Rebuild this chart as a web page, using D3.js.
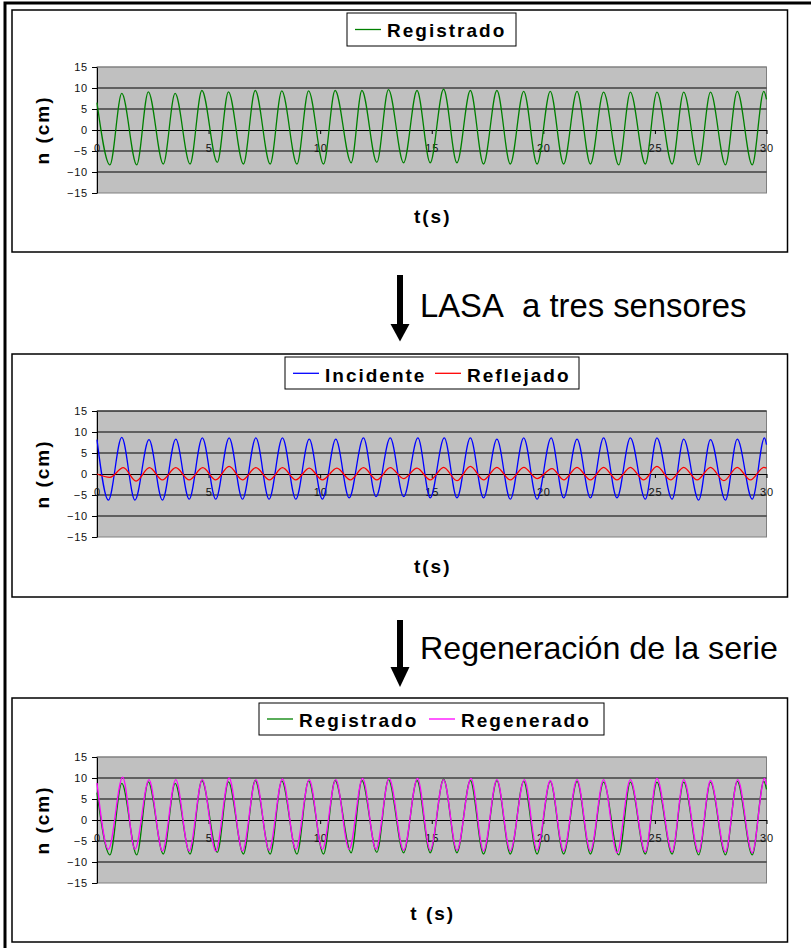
<!DOCTYPE html>
<html>
<head>
<meta charset="utf-8">
<script src="https://cdn.jsdelivr.net/npm/d3@7"></script>
<style>
  body { margin: 0; background: #fff; }
  svg { display: block; font-family: "Liberation Sans", Arial, Helvetica, sans-serif; }
</style>
</head>
<body>
<div id="container"></div>
<script>
// tick labels
const xTicks = [0, 5, 10, 15, 20, 25, 30];
const yTicks = [-15, -10, -5, 0, 5, 10, 15];

// Registrado (measured): start, then trough / crest pairs, then end
const registradoT = [0,
  0.58, 1.11, 1.78, 2.30, 2.97, 3.50, 4.17, 4.70, 5.39, 5.89,
  6.56, 7.09, 7.76, 8.28, 8.96, 9.48, 10.15, 10.67, 11.39, 11.87,
  12.54, 13.06, 13.74, 14.34, 14.93, 15.53, 16.13, 16.73, 17.32, 17.92,
  18.52, 19.12, 19.72, 20.31, 20.91, 21.51, 22.11, 22.70, 23.38, 23.90,
  24.57, 25.09, 25.77, 26.29, 26.96, 27.49, 28.16, 28.69, 29.36, 29.88,
  30];
const registradoN = [6.5,
  -8.3, 8.7, -8.3, 9.1, -8.1, 8.7, -8.1, 9.4, -7.7, 9.1,
  -8.1, 9.4, -8.1, 9.3, -8.1, 9.3, -8.1, 9.4, -7.8, 9.4,
  -7.7, 9.6, -7.8, 9.4, -7.8, 9.7, -7.8, 9.4, -8.1, 9.4,
  -8.1, 9.2, -8.1, 9.2, -8.1, 9.2, -8.1, 9.0, -8.3, 9.0,
  -8.1, 9.0, -8.1, 9.0, -8.3, 9.0, -8.3, 9.2, -8.3, 9.2,
  7.3];

// Incidente (LASA)
const incidenteT = [0,
  0.51, 1.11, 1.70, 2.33, 2.93, 3.53, 4.13, 4.72, 5.32, 5.92,
  6.52, 7.12, 7.71, 8.31, 8.91, 9.51, 10.10, 10.70, 11.30, 11.94,
  12.50, 13.14, 13.74, 14.38, 14.93, 15.56, 16.13, 16.73, 17.32, 17.92,
  18.52, 19.12, 19.72, 20.35, 20.91, 21.51, 22.11, 22.70, 23.30, 23.90,
  24.57, 25.09, 25.77, 26.29, 26.96, 27.49, 28.16, 28.69, 29.36, 29.91,
  30];
const incidenteN = [8.2,
  -6.2, 8.7, -6.2, 8.2, -6.2, 8.3, -6.0, 8.6, -6.0, 8.6,
  -6.0, 8.6, -6.0, 8.6, -6.0, 8.3, -6.0, 8.3, -5.7, 8.6,
  -5.4, 8.6, -5.4, 8.6, -5.7, 8.6, -5.7, 8.6, -5.7, 8.3,
  -6.0, 8.6, -6.0, 8.6, -5.7, 8.3, -5.7, 8.6, -5.7, 8.6,
  -6.0, 8.6, -6.0, 8.3, -6.2, 8.2, -6.2, 8.3, -6.0, 8.6,
  7.0];

// Reflejado (LASA)
const reflejadoT = [0,
  0.58, 1.18, 1.75, 2.35, 2.93, 3.53, 4.13, 4.74, 5.32, 5.92,
  6.52, 7.12, 7.73, 8.31, 8.91, 9.51, 10.10, 10.75, 11.35, 11.94,
  12.54, 13.14, 13.74, 14.34, 14.93, 15.53, 16.13, 16.73, 17.32, 17.92,
  18.52, 19.12, 19.72, 20.39, 20.91, 21.51, 22.11, 22.70, 23.30, 23.90,
  24.50, 25.09, 25.70, 26.29, 26.89, 27.49, 28.09, 28.69, 29.28, 29.88,
  30];
const reflejadoN = [0,
  -0.8, 1.5, -1.7, 1.5, -1.4, 1.5, -1.4, 1.5, -1.4, 1.8,
  -1.4, 1.5, -1.4, 1.5, -1.4, 1.4, -1.4, 1.4, -1.4, 1.5,
  -1.4, 1.5, -1.1, 1.4, -1.4, 1.6, -1.6, 1.8, -1.4, 1.6,
  -1.4, 1.6, -1.1, 1.3, -1.4, 1.6, -1.4, 1.6, -1.4, 1.6,
  -1.4, 1.8, -1.4, 1.6, -1.4, 1.6, -1.6, 1.6, -1.4, 1.6,
  1.4];

// Regenerado
const regeneradoT = [0,
  0.51, 1.15, 1.70, 2.33, 2.93, 3.53, 4.13, 4.72, 5.32, 5.92,
  6.52, 7.12, 7.71, 8.31, 8.91, 9.51, 10.10, 10.70, 11.30, 11.90,
  12.50, 13.09, 13.74, 14.36, 14.93, 15.53, 16.13, 16.76, 17.32, 17.92,
  18.52, 19.15, 19.72, 20.31, 20.91, 21.51, 22.11, 22.70, 23.30, 23.90,
  24.57, 25.09, 25.77, 26.29, 26.96, 27.49, 28.16, 28.71, 29.36, 29.91,
  30];
const regeneradoN = [8.8,
  -7.0, 10.2, -7.0, 9.6, -7.4, 9.6, -7.4, 9.6, -7.4, 10.0,
  -7.4, 9.6, -7.2, 9.8, -7.0, 9.6, -7.0, 9.6, -7.0, 9.9,
  -7.0, 9.9, -7.2, 9.9, -7.2, 9.6, -7.2, 9.9, -7.4, 9.6,
  -7.4, 9.6, -7.2, 9.4, -7.4, 9.6, -7.4, 9.6, -7.8, 9.6,
  -7.6, 9.9, -7.6, 9.6, -7.6, 9.4, -7.6, 9.6, -7.8, 9.9,
  8.4];

function pts(ts, ns) { return ts.map((t, i) => ({ t: t, n: ns[i] })); }

const registrado = { name: 'Registrado', color: '#008000', points: pts(registradoT, registradoN) };
const incidente  = { name: 'Incidente',  color: '#0000ff', points: pts(incidenteT, incidenteN) };
const reflejado  = { name: 'Reflejado',  color: '#ff0000', points: pts(reflejadoT, reflejadoN) };
const regenerado = { name: 'Regenerado', color: '#ff00ff', points: pts(regeneradoT, regeneradoN) };

const panels = [
  { top: 10,  bottom: 252, plotTop: 67,  xTitle: 't(s)',  xTitleY: 223, topLine: '#808080',
    legend: { x: 347, y: 13, w: 169, h: 33, lineY: 29.5, textY: 36.5, items: [[355, registrado]] },
    series: [registrado] },
  { top: 354, bottom: 597, plotTop: 411, xTitle: 't(s)',  xTitleY: 573, topLine: '#000',
    legend: { x: 285, y: 357, w: 294, h: 32, lineY: 373.3, textY: 381.5, items: [[293, incidente], [435, reflejado]] },
    series: [incidente, reflejado] },
  { top: 698, bottom: 942, plotTop: 757, xTitle: 't (s)', xTitleY: 920, topLine: '#808080',
    legend: { x: 259, y: 703, w: 345, h: 32, lineY: 719, textY: 726.5, items: [[267, registrado], [429, regenerado]] },
    series: [registrado, regenerado] }
];

const W = 811, H = 948;
const plotX = 97, plotW = 669.5, plotH = 126;

const svg = d3.select('#container').append('svg')
  .attr('width', W).attr('height', H);

// outer frame (left and top only, as cropped)
svg.append('path')
  .attr('d', `M5,${H} V3 H${W}`)
  .attr('fill', 'none').attr('stroke', '#000').attr('stroke-width', 3);

panels.forEach(p => {
  const g = svg.append('g');

  g.append('rect')
    .attr('x', 12).attr('y', p.top)
    .attr('width', 775.5).attr('height', p.bottom - p.top)
    .attr('fill', '#fff').attr('stroke', '#000').attr('stroke-width', 1.5);

  const x = d3.scaleLinear().domain([0, 30]).range([plotX, plotX + plotW]);
  const y = d3.scaleLinear().domain([-15, 15]).range([p.plotTop + plotH, p.plotTop]);

  g.append('rect')
    .attr('x', plotX).attr('y', p.plotTop)
    .attr('width', plotW).attr('height', plotH)
    .attr('fill', '#c0c0c0').attr('stroke', '#808080').attr('stroke-width', 1);

  g.append('line')
    .attr('x1', plotX).attr('x2', plotX + plotW)
    .attr('y1', y(15)).attr('y2', y(15))
    .attr('stroke', p.topLine).attr('stroke-width', 1);

  g.append('g').selectAll('line')
    .data([-10, -5, 5, 10])
    .join('line')
    .attr('x1', plotX).attr('x2', plotX + plotW)
    .attr('y1', d => y(d)).attr('y2', d => y(d))
    .attr('stroke', '#000').attr('stroke-width', 1);

  const yAxis = g.append('g')
    .attr('transform', `translate(${plotX},0)`)
    .call(d3.axisLeft(y).tickValues(yTicks).tickSize(5).tickSizeOuter(0).tickPadding(4));
  yAxis.select('.domain').attr('stroke', '#000');
  yAxis.selectAll('text')
    .attr('font-size', 11).attr('letter-spacing', '0.8px')
    .attr('fill', '#111').attr('font-family', '"Liberation Sans", Arial, sans-serif');

  const xAxis = g.append('g')
    .attr('transform', `translate(0,${y(0)})`)
    .call(d3.axisBottom(x).tickValues(xTicks).tickSize(4).tickSizeOuter(0).tickPadding(10));
  xAxis.select('.domain').attr('stroke', '#000');
  xAxis.selectAll('text')
    .attr('font-size', 11).attr('letter-spacing', '0.8px')
    .attr('fill', '#111').attr('font-family', '"Liberation Sans", Arial, sans-serif');

  const line = d3.line()
    .x(d => x(d.t))
    .y(d => y(d.n))
    .curve(d3.curveMonotoneX);

  p.series.forEach(s => {
    g.append('path')
      .datum(s.points)
      .attr('d', line)
      .attr('fill', 'none')
      .attr('stroke', s.color)
      .attr('stroke-width', 1.3);
  });

  // axis titles
  g.append('text')
    .attr('transform', `translate(49,${y(0)}) rotate(-90)`)
    .attr('text-anchor', 'middle')
    .attr('font-size', 19).attr('font-weight', 'bold').attr('letter-spacing', '2px')
    .text('n (cm)');

  g.append('text')
    .attr('x', plotX + plotW / 2 + 1).attr('y', p.xTitleY)
    .attr('text-anchor', 'middle')
    .attr('font-size', 19).attr('font-weight', 'bold').attr('letter-spacing', '2px')
    .text(p.xTitle);

  // legend
  const L = p.legend;
  g.append('rect')
    .attr('x', L.x).attr('y', L.y).attr('width', L.w).attr('height', L.h)
    .attr('fill', '#fff').attr('stroke', '#000').attr('stroke-width', 1);
  L.items.forEach(([lx, s]) => {
    g.append('line')
      .attr('x1', lx).attr('x2', lx + 26)
      .attr('y1', L.lineY).attr('y2', L.lineY)
      .attr('stroke', s.color).attr('stroke-width', 1.3);
    g.append('text')
      .attr('x', lx + 32).attr('y', L.textY)
      .attr('font-size', 19).attr('font-weight', 'bold').attr('letter-spacing', '2px')
      .text(s.name);
  });
});

// arrows and step captions between panels
const steps = [
  { top: 275, base: 324, tip: 341.5, text: 'LASA\u00a0\u00a0a tres sensores', textY: 317, size: 32.8 },
  { top: 620, base: 667, tip: 687, text: 'Regeneración de la serie', textY: 659, size: 32.2 }
];
steps.forEach(s => {
  svg.append('rect')
    .attr('x', 397).attr('y', s.top).attr('width', 6).attr('height', s.base - s.top + 1)
    .attr('fill', '#000');
  svg.append('path')
    .attr('d', `M390.5,${s.base} L409.5,${s.base} L400,${s.tip} Z`)
    .attr('fill', '#000');
  svg.append('text')
    .attr('x', 420).attr('y', s.textY)
    .attr('font-size', s.size)
    .text(s.text);
});
</script>
</body>
</html>
